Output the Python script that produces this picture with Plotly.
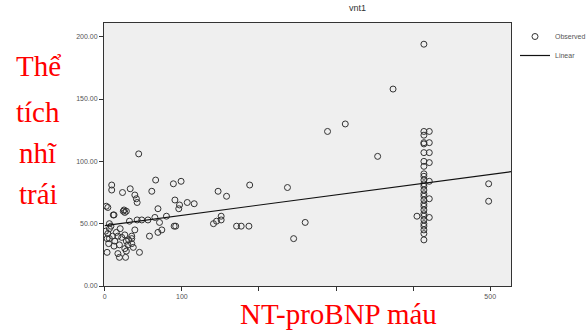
import plotly.graph_objects as go

# Observed points (NT-proBNP, left atrial volume)
nt_probnp = [44, 9, 9, 23, 33, 39, 41, 42, 66, 61, 89, 99, 69, 91, 97, 96, 107, 116,
             4, 12, 25, 26, 28, 32, 42, 48, 56, 65, 71, 80, 90, 92, 74, 69, 58,
             147, 158, 151, 151, 145, 141, 171, 177, 187, 188,
             6, 4, 10, 6, 17, 13, 19, 26, 17, 27, 19, 3, 45, 35, 35, 35, 26, 28, 30,
             39, 20, 3, 5, 12, 28, 2, 11, 24, 6, 1, 8, 15, 22, 31, 37,
             289, 312, 354, 237, 260, 245, 498, 498, 405, 374,
             414, 414, 414, 414, 414, 414, 414, 414, 414, 414, 414, 414, 414, 414,
             414, 414, 414, 414, 414, 414, 414, 414, 414, 414, 414, 414, 414, 414,
             421, 421, 421, 421, 421, 421, 421]
lav = [106, 81, 77, 75, 78, 73, 70, 67, 85, 76, 82, 84, 62, 69, 65, 62, 67, 66,
       63, 57, 61, 59, 60, 52, 53, 53, 53, 55, 51, 56, 48, 48, 45, 43, 40,
       76, 72, 56, 53, 52, 50, 48, 48, 48, 81,
       46, 42, 40, 38, 40, 36, 33, 30, 26, 23, 23, 27, 27, 34, 38, 40, 41, 36, 33,
       45, 46, 38, 34, 32, 28, 64, 57, 60, 50, 44, 48, 43, 39, 37, 31,
       124, 130, 104, 79, 51, 38, 82, 68, 56, 158,
       194, 124, 121, 115, 114, 107, 100, 90, 88, 85, 82, 80, 77, 74,
       72, 69, 66, 64, 61, 58, 56, 53, 50, 48, 45, 42, 37, 96,
       124, 115, 107, 99, 84, 70, 55]

# Linear fit
fit_intercept = 48.5
fit_slope = 0.082
fit_x = [0, 527]
fit_y = [fit_intercept + fit_slope * v for v in fit_x]

x_tickvals = [0, 100, 200, 300, 400, 500]
x_ticktext = ["0", "100", "", "", "", "500"]
y_tickvals = [0, 50, 100, 150, 200]
y_ticktext = ["0.00", "50.00", "100.00", "150.00", "200.00"]

fig = go.Figure()
fig.add_trace(go.Scatter(
    x=nt_probnp, y=lav, mode="markers", name="Observed",
    marker=dict(symbol="circle-open", size=6, color="#333333", line=dict(width=1, color="#333333")),
))
fig.add_trace(go.Scatter(
    x=fit_x, y=fit_y, mode="lines", name="Linear",
    line=dict(color="#111111", width=1.2),
))

fig.update_layout(
    width=586, height=331,
    margin=dict(l=104, r=75, t=23, b=45, autoexpand=False),
    paper_bgcolor="white",
    plot_bgcolor="#EFEFEF",
    showlegend=True,
    legend=dict(xref="container", yref="container", x=515 / 586, y=1 - 22 / 331,
                xanchor="left", yanchor="top",
                font=dict(size=7, color="#555555", family="Arial"),
                bgcolor="rgba(0,0,0,0)", tracegroupgap=0, itemwidth=30),
    title=dict(text="vnt1", x=0.61, xanchor="center", y=0.985, yanchor="top",
               font=dict(size=9, color="#333333", family="Arial")),
    font=dict(family="Arial"),
)
fig.update_xaxes(range=[-1, 527], tickvals=x_tickvals, ticktext=x_ticktext,
                 showgrid=False, zeroline=False, showline=True, linecolor="#333333",
                 linewidth=1, mirror=True, ticks="outside", ticklen=4, tickcolor="#333333",
                 tickfont=dict(size=7, color="#555555"))
fig.update_yaxes(range=[0, 211], tickvals=y_tickvals, ticktext=y_ticktext,
                 showgrid=False, zeroline=False, showline=True, linecolor="#333333",
                 linewidth=1, mirror=True, ticks="outside", ticklen=4, tickcolor="#333333",
                 tickfont=dict(size=7, color="#555555"))

red_font = dict(family="Liberation Serif", size=29, color="red")
left_lines = [("Thể", 66), ("tích", 112), ("nhĩ", 153), ("trái", 194)]
for txt, py in left_lines:
    fig.add_annotation(text=txt, xref="paper", yref="paper",
                       x=(38 - 104) / 407, y=(286 - py) / 263,
                       xanchor="center", yanchor="middle", showarrow=False, font=red_font)
fig.add_annotation(text="NT-proBNP máu", xref="paper", yref="paper",
                   x=(338 - 104) / 407, y=(286 - 314) / 263,
                   xanchor="center", yanchor="middle", showarrow=False, font=red_font)

fig.write_html("out.html")
